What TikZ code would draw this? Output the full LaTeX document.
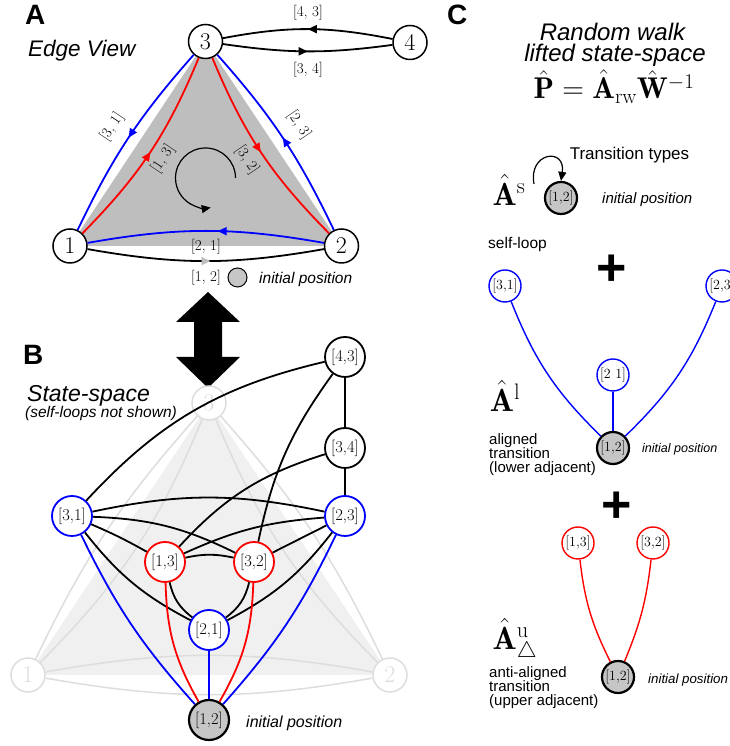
\RequirePackage{fix-cm}
\documentclass[tikz,border=0pt]{standalone}
\usepackage{fontspec}
\setsansfont{Liberation Sans}
\usepackage{amsmath}
\usetikzlibrary{arrows.meta,decorations.markings}
\definecolor{tri}{HTML}{BEBEBE}
\definecolor{fadefill}{HTML}{F0F0F0}
\definecolor{fadeline}{HTML}{DDDDDD}
\definecolor{initfill}{HTML}{C6C6C6}
\definecolor{myblue}{RGB}{0,0,255}
\definecolor{myred}{RGB}{255,0,0}
\tikzset{
  bignode/.style={circle, draw, line width=1.5pt, fill=white, minimum size=34pt, inner sep=0pt, font=\fontsize{24}{24}\selectfont},
  fadenode/.style={bignode, draw=fadeline, text=fadeline},
  statenode/.style={circle, draw, line width=1.8pt, fill=white, minimum size=40pt, inner sep=0pt, font=\fontsize{16.5}{16.5}\selectfont},
  smallnode/.style={circle, draw, line width=1.4pt, fill=white, minimum size=32pt, inner sep=0pt, font=\fontsize{14}{14}\selectfont},
  initnode/.style={fill=initfill, draw=black, line width=2.2pt},
  midarrow/.style={postaction={decorate}, decoration={markings, mark=at position #1 with {\arrow{Triangle[length=9pt,width=8pt]}}}},
  grayarrow/.style={postaction={decorate}, decoration={markings, mark=at position #1 with {\arrow{Triangle[length=9pt,width=8pt,color=tri]}}}},
  elabel/.style={font=\fontsize{15}{15}\selectfont, inner sep=1pt},
  aedge/.style={line width=1.8pt},
  bedge/.style={line width=1.8pt},
  cedge/.style={line width=1.4pt},
  fedge/.style={line width=1.5pt, draw=fadeline},
  sanslabel/.style={font=\sffamily\bfseries\fontsize{28}{28}\selectfont, anchor=base west, inner sep=0pt},
  itext/.style={font=\sffamily\itshape\fontsize{#1}{#1}\selectfont, inner sep=0pt},
  stext/.style={font=\sffamily\fontsize{#1}{#1}\selectfont, inner sep=0pt},
  plus/.style={font=\sffamily\bfseries\fontsize{52}{52}\selectfont, inner sep=0pt},
  bigmath/.style={font=\fontsize{32}{32}\selectfont, inner sep=0pt},
}
\begin{document}
\begin{tikzpicture}[x=1pt,y=1pt]
\useasboundingbox (0,0) rectangle (729,746);

% ================= Panel A =================
\node[sanslabel] (labA) at (25,721) {A};
\node[itext=22.5, anchor=base west] (edgeview) at (28,689) {Edge View};

\coordinate (c1) at (70,500);
\coordinate (c2) at (341.5,500);
\coordinate (c3) at (205.5,704.5);
\fill[tri] (c1) -- (c2) -- (c3) -- cycle;

\node[bignode] (n3) at (c3) {3};
\node[bignode] (n4) at (410,703.5) {4};
\node[bignode] (n1) at (c1) {1};
\node[bignode] (n2) at (c2) {2};

\draw[aedge, myblue, midarrow=0.5] (n3) to[bend right=8] (n1);
\draw[aedge, myblue, midarrow=0.5] (n2) to[bend right=8] (n3);
\draw[aedge, myred, midarrow=0.5] (n1) to[bend right=11] (n3);
\draw[aedge, myred, midarrow=0.5] (n3) to[bend right=11] (n2);
\draw[aedge, myblue, midarrow=0.45] (n2) to[bend right=10] (n1);
\draw[aedge, black, grayarrow=0.52] (n1) to[bend right=10] (n2);
\draw[aedge, midarrow=0.5] (n4) to[bend right=11] (n3);
\draw[aedge, midarrow=0.5] (n3) to[bend right=8] (n4);

\node[elabel, rotate=56] (l31) at (112,619) {[3, 1]};
\node[elabel, rotate=-56] (l23) at (299,621) {[2, 3]};
\node[elabel, rotate=56] (l13) at (163,587) {[1, 3]};
\node[elabel, rotate=-56] (l32) at (247,586) {[3, 2]};
\node[elabel] (l21) at (206,499) {[2, 1]};
\node[elabel] (l12) at (206,468) {[1, 2]};
\node[elabel] (l43) at (308,733) {[4, 3]};
\node[elabel] (l34) at (308,676) {[3, 4]};

\draw[line width=1.2pt, -{Triangle[length=9pt,width=8pt]}] (235.5,568) arc (0:280:30);

\node[circle, draw, fill=initfill, line width=1pt, minimum size=19pt, inner sep=0pt] (ipA) at (237.5,468.5) {};
\node[itext=15.5, anchor=base west] (ipAt) at (259,462) {initial position};

% ================= Double arrow =================
\fill[black] (208,454) -- (240,424) -- (222,424) -- (222,389) -- (240,389) -- (208,358)
  -- (176,389) -- (194,389) -- (194,424) -- (176,424) -- cycle;

% ================= Panel B =================
\node[sanslabel] (labB) at (23,381) {B};
\node[itext=23, anchor=base west] (ssp) at (27,344) {State-space};
\node[itext=15.5, anchor=base west] (ssn) at (25,328) {(self-loops not shown)};

\coordinate (f1) at (28,71);
\coordinate (f2) at (390,71);
\coordinate (f3) at (209,343);
\fill[fadefill] (f1) -- (f2) -- (f3) -- cycle;
\node[fadenode] (t3) at (f3) {3};
\node[fadenode] (t1) at (f1) {1};
\node[fadenode] (t2) at (f2) {2};
\draw[fedge] (t3) to[bend right=8] (t1);
\draw[fedge] (t2) to[bend right=8] (t3);
\draw[fedge] (t1) to[bend right=11] (t3);
\draw[fedge] (t3) to[bend right=11] (t2);
\draw[fedge] (t2) to[bend right=10] (t1);
\draw[fedge] (t1) to[bend right=10] (t2);

\node[statenode] (s43) at (345,389) {[4,3]};
\node[statenode] (s34) at (345,298) {[3,4]};
\node[statenode, draw=myblue] (s23) at (345,230) {[2,3]};
\node[statenode, draw=myblue] (s31) at (72,230) {[3,1]};
\node[statenode, draw=myred] (s13) at (165,184) {[1,3]};
\node[statenode, draw=myred] (s32) at (254,184) {[3,2]};
\node[statenode, draw=myblue] (s21) at (209,116) {[2,1]};
\node[statenode, initnode] (s12) at (209,26) {[1,2]};

\draw[bedge] (s31) to[bend left=17] (s43);
\draw[bedge] (s31) to[bend left=12] (s23);
\draw[bedge] (s31) to[bend left=12] (s32);
\draw[bedge] (s31) to[bend left=3] (s13);
\draw[bedge] (s31) to[bend right=12] (s21);
\draw[bedge] (s13) to[bend left=12] (s32);
\draw[bedge] (s13) to[bend left=10] (s23);
\draw[bedge] (s13) to[bend left=15] (s34);
\draw[bedge] (s32) to[bend left=12] (s43);
\draw[bedge] (s32) -- (s23);
\draw[bedge] (s13) to[bend right=20] (s21);
\draw[bedge] (s32) to[bend left=20] (s21);
\draw[bedge] (s23) to[bend left=12] (s21);
\draw[bedge] (s43) -- (s34);
\draw[bedge] (s34) -- (s23);
\draw[bedge, myblue] (s31) to[bend right=8] (s12);
\draw[bedge, myblue] (s23) to[bend left=8] (s12);
\draw[bedge, myblue] (s21) -- (s12);
\draw[bedge, myred] (s13) to[bend right=14] (s12);
\draw[bedge, myred] (s32) to[bend left=14] (s12);
\node[itext=16, anchor=base west] (ipBt) at (246,18) {initial position};

% ================= Panel C =================
\node[sanslabel] (labC) at (447,721) {C};
\node[itext=24, anchor=base] (rw1) at (612.5,705) {Random walk};
\node[itext=24, anchor=base] (rw2) at (615,684) {lifted state-space};
\node[font=\fontsize{30}{30}\selectfont, anchor=base, inner sep=0pt] (formula) at (614,647)
  {$\hat{\mathbf{P}} = \hat{\mathbf{A}}_{\mathrm{rw}}\hat{\mathbf{W}}^{-1}$};
\node[stext=17, anchor=base] (ttypes) at (629.5,586) {Transition types};

% self-loop
\node[smallnode, initnode] (q12) at (561,548) {[1,2]};
\coordinate (loopst) at (534,562);
\draw[line width=1.2pt, -{Triangle[length=9pt,width=8pt]}] (loopst) .. controls (528,594) and (566,599) .. (q12.north);
\node[bigmath] (As) at (509,556) {$\hat{\mathbf{A}}^{\mathrm{s}}$};
\node[itext=15, anchor=base west] (ipC1) at (602,542) {initial position};
\node[stext=15.5, anchor=base west] (sl) at (488,497) {self-loop};

\node[plus] (plus1) at (612,476) {+};

% aligned
\node[smallnode, draw=myblue] (a31) at (505,460) {[3,1]};
\node[smallnode, draw=myblue] (a23) at (722,460) {[2,3]};
\node[smallnode, draw=myblue] (a21) at (613,371) {[2\ 1]};
\node[smallnode, initnode] (a12) at (613,298) {[1,2]};
\draw[cedge, myblue] (a31) to[bend right=12] (a12);
\draw[cedge, myblue] (a23) to[bend left=12] (a12);
\draw[cedge, myblue] (a21) -- (a12);
\node[bigmath] (Al) at (505,350) {$\hat{\mathbf{A}}^{\mathrm{l}}$};
\node[stext=15, align=left, anchor=north west] (altext) at (489,313) {aligned\\[-1pt]transition\\[-1pt](lower adjacent)};
\node[itext=12.5, anchor=base west] (ipC2) at (642,293) {initial position};

\node[plus] (plus2) at (617,239) {+};

% anti-aligned
\node[smallnode, draw=myred] (u13) at (578,203) {[1,3]};
\node[smallnode, draw=myred] (u32) at (653,203) {[3,2]};
\node[smallnode, initnode] (u12) at (618,69) {[1,2]};
\draw[cedge, myred] (u13) to[bend right=10] (u12);
\draw[cedge, myred] (u32) to[bend left=8] (u12);
\node[bigmath] (Au) at (515,106) {$\hat{\mathbf{A}}^{\mathrm{u}}_{\triangle}$};
\node[stext=15, align=left, anchor=north west] (autext) at (489,80) {anti-aligned\\[-1pt]transition\\[-1pt](upper adjacent)};
\node[itext=13.3, anchor=base west] (ipC3) at (648,62) {initial position};
\end{tikzpicture}
\end{document}
